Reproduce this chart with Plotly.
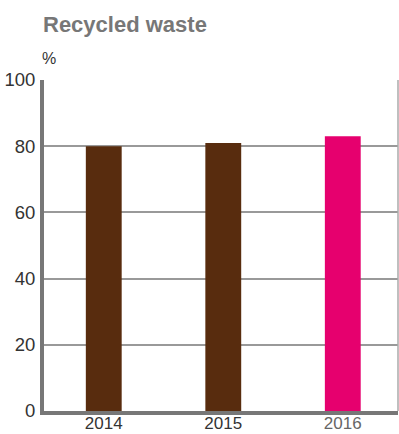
import plotly.graph_objects as go

categories = ["2014", "2015", "2016"]
values = [80, 81, 83]
bar_colors = ["#582c0e", "#582c0e", "#e6006e"]
tick_label_colors = ["#333333", "#333333", "#666666"]
y_ticks = [0, 20, 40, 60, 80, 100]

fig = go.Figure()
fig.add_trace(go.Bar(
    x=categories, y=values, marker_color=bar_colors, width=0.30,
    marker_line_width=0, hoverinfo="skip",
))

fig.update_layout(
    width=399, height=434,
    margin=dict(l=44, r=1, t=80, b=23, autoexpand=False),
    paper_bgcolor="white", plot_bgcolor="white",
    showlegend=False,
    font=dict(family="Liberation Sans, Arial, sans-serif", color="#333333", size=18),
)
fig.update_xaxes(
    type="category", range=[-0.5, 2.462], automargin=False,
    tickvals=categories,
    ticktext=[f'<span style="color:{c}">{t}</span>' for t, c in zip(categories, tick_label_colors)],
    showline=True, linecolor="#777777", linewidth=4,
    showgrid=False, ticks="", ticklabelstandoff=-6,
    tickfont=dict(size=17),
)
fig.update_yaxes(
    range=[0, 100], tickvals=y_ticks, automargin=False,
    showline=True, linecolor="#777777", linewidth=4,
    showgrid=True, gridcolor="#999999", gridwidth=1.5,
    ticks="", ticklabelstandoff=1,
    tickfont=dict(size=18.5), zeroline=False,
)
fig.add_shape(type="line", xref="paper", yref="y", x0=1, x1=1, y0=0, y1=100,
              line=dict(color="#aaaaaa", width=1.5))
fig.add_annotation(text="<b>Recycled waste</b>", xref="paper", yref="paper",
                   x=0, y=1, xshift=-3, yshift=56, xanchor="left", yanchor="middle",
                   showarrow=False, font=dict(size=22, color="#777777"))
fig.add_annotation(text="%", xref="paper", yref="paper",
                   x=0, y=1, xshift=-4, yshift=22, xanchor="left", yanchor="middle",
                   showarrow=False, font=dict(size=16, color="#333333"))

fig.write_html("out.html")
